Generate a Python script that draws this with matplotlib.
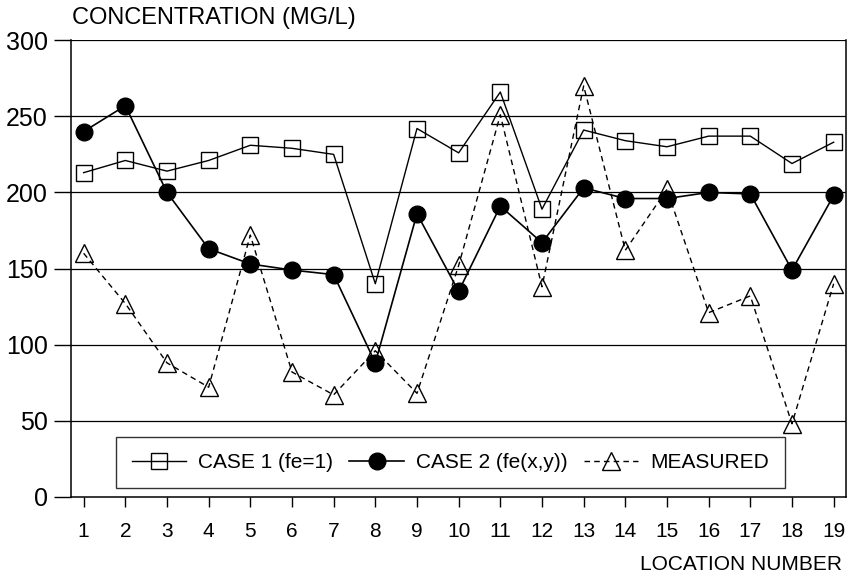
import numpy as np
import matplotlib.pyplot as plt

plt.rcParams['font.family'] = ['Liberation Sans', 'DejaVu Sans']

# データ
locations = np.arange(1, 20)
case1 = [213, 221, 214, 221, 231, 229, 225, 140, 242, 226,
         266, 189, 241, 234, 230, 237, 237, 219, 233]
case2 = [240, 257, 200, 163, 153, 149, 146, 88, 186, 135,
         191, 167, 203, 196, 196, 200, 199, 149, 198]
measured = [160, 127, 88, 72, 172, 82, 67, 96, 68, 152,
            251, 138, 270, 162, 202, 121, 132, 48, 140]
y_ticks = [0, 50, 100, 150, 200, 250, 300]

fig = plt.figure(figsize=(8.47, 5.75), dpi=100)
ax = fig.add_axes([0.084, 0.136, 0.915, 0.794])

# グリッド
for y in y_ticks[1:]:
    ax.axhline(y, color='black', lw=0.9, zorder=1)

ax.plot(locations, case1, '-', color='black', lw=1.0, marker='s', ms=11,
        mfc='none', mec='black', mew=1.0, label='CASE 1 (fe=1)', zorder=3)
ax.plot(locations, case2, '-', color='black', lw=1.2, marker='o', ms=12,
        mfc='black', mec='black', label='CASE 2 (fe(x,y))', zorder=4)
ax.plot(locations, measured, linestyle=(0, (4, 3)), color='black', lw=1.0,
        marker='^', ms=13, mfc='none', mec='black', mew=1.0,
        label='MEASURED', zorder=3)

ax.set_xlim(0.7, 19.3)
ax.set_ylim(0, 300)
ax.set_xticks(locations)
ax.set_yticks(y_ticks)
ax.tick_params(axis='x', direction='out', length=7, width=1, labelsize=15, pad=11)
ax.tick_params(axis='y', direction='out', length=12, width=1, labelsize=18, pad=5)
for s in ax.spines.values():
    s.set_linewidth(1.1)
ax.spines['top'].set_visible(False)

fig.text(0.085, 0.968, 'CONCENTRATION (MG/L)', fontsize=17, ha='left', va='center')
fig.text(0.994, 0.019, 'LOCATION NUMBER', fontsize=15, ha='right', va='center')

leg = ax.legend(loc='lower left', bbox_to_anchor=(0.058, 0.02, 0.863, 0.11),
                mode='expand', ncol=3, fontsize=15, frameon=True, fancybox=False,
                edgecolor='black', handlelength=2.6, borderpad=0.75,
                handletextpad=0.6, columnspacing=1.2, borderaxespad=0)
leg.get_frame().set_linewidth(1.0)

plt.savefig('out.png', dpi=100)
